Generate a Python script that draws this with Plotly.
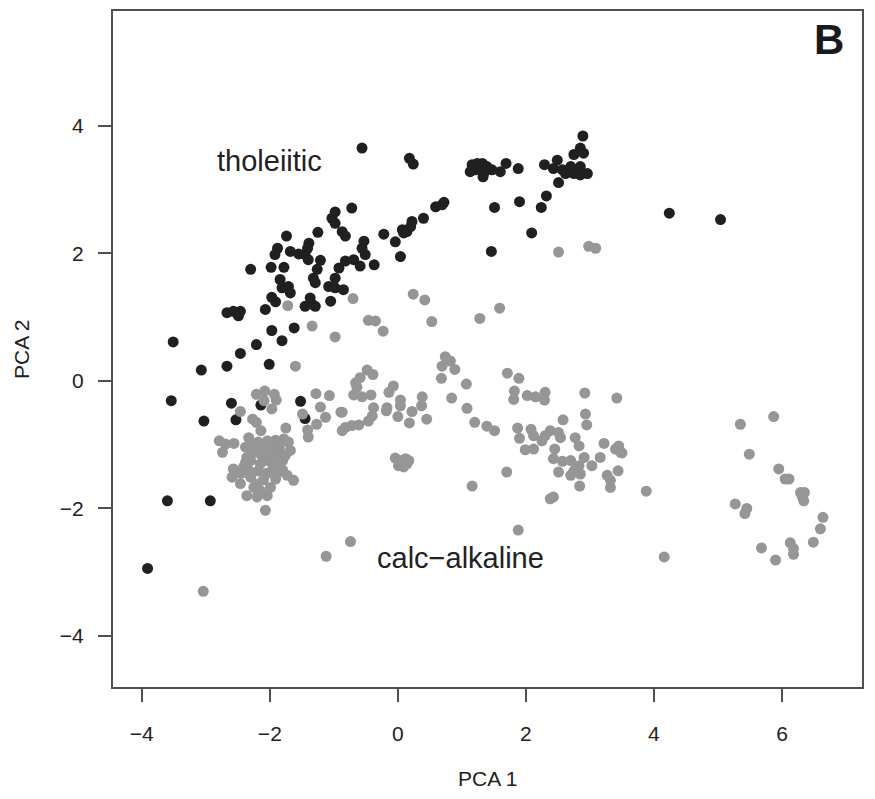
import plotly.graph_objects as go

# PCA scores of the tholeiitic samples
thol_x = [
    -3.91, -3.60, -2.93, -3.51, -3.54, -3.07, -3.03,
    -2.67, -2.46, -2.21, -2.01, -1.97, -1.81, -1.62,
    -2.60, -2.53, -2.14, -1.52, -1.45,
    -2.67, -2.57, -2.46, -2.49, -2.07, -1.97, -1.91,
    -1.45, -1.34, -1.29, -1.37, -1.05,
    -0.56, -0.72, -0.98, -1.03, -0.98, -0.87, -0.82,
    -1.25, -1.39, -1.41, -1.74, -1.88, -1.92, -1.68,
    -1.55, -1.45, -1.40, -2.30, -1.98, -1.78, -1.84,
    -1.81, -1.71, -1.68, -1.21, -1.26, -1.32, -1.29,
    -0.92, -0.98, -1.08, -0.98, -0.85, -0.82, -0.69,
    -0.59, -0.53, -0.56, -0.51, -0.37, -0.22, -0.04,
    0.07, 0.04, 0.18, 0.24, 0.59, 0.72, 0.69, 0.40,
    0.22, 0.20, 0.09, 0.14,
    1.16, 1.24, 1.32, 1.39, 1.13, 1.21, 1.29, 1.34,
    1.33, 1.47, 1.60, 1.69, 1.88,
    2.89, 2.85, 2.75, 2.90, 2.49, 2.29, 2.43, 2.57,
    2.70, 2.62, 2.85, 2.75, 2.96, 2.85, 2.51, 2.32,
    2.24, 1.90, 1.51, 2.09, 1.46, 4.24, 5.04,
]
thol_y = [
    -2.94, -1.88, -1.88, 0.61, -0.31, 0.17, -0.63,
    0.23, 0.43, 0.57, 0.26, 0.79, 0.63, 0.83,
    -0.35, -0.61, -0.38, -0.32, -0.59,
    1.07, 1.09, 1.09, 1.02, 1.12, 1.31, 1.24,
    1.17, 1.20, 1.17, 1.30, 1.25,
    3.65, 2.71, 2.65, 2.55, 2.47, 2.34, 2.27,
    2.33, 2.16, 2.08, 2.27, 2.08, 1.98, 2.03,
    1.99, 1.98, 1.90, 1.75, 1.78, 1.78, 1.59,
    1.46, 1.48, 1.38, 1.89, 1.75, 1.61, 1.54,
    1.77, 1.61, 1.48, 1.46, 1.43, 1.88, 1.90,
    1.80, 2.19, 2.08, 1.98, 1.82, 2.30, 2.18,
    2.37, 1.95, 3.49, 3.40, 2.73, 2.80, 2.76, 2.55,
    2.50, 2.42, 2.32, 2.34,
    3.39, 3.41, 3.41, 3.36, 3.28, 3.31, 3.33, 3.25,
    3.20, 3.31, 3.28, 3.41, 3.33,
    3.84, 3.65, 3.55, 3.57, 3.46, 3.39, 3.33, 3.31,
    3.36, 3.25, 3.36, 3.25, 3.25, 3.23, 3.11, 2.90,
    2.72, 2.81, 2.72, 2.32, 2.03, 2.63, 2.53,
]

# PCA scores of the calc-alkaline samples
calc_x = [
    -1.72, -1.34, -0.98, -1.60, -0.70,
    -2.21, -2.08, -1.93, -1.90, -2.09, -1.97,
    -2.46, -2.27, -2.21, -2.14, -1.75,
    -1.28, -1.07, -1.21, -1.13, -1.27, -1.41, -1.40, -1.49, -0.89,
    -2.79, -2.69, -2.74, -2.56, -2.33, -2.38,
    -2.18, -2.04, -1.91, -1.78, -1.71, -1.68, -1.76, -1.84,
    -2.36, -2.41, -2.57, -2.59, -2.46, -2.30, -2.25, -2.36,
    -2.20, -2.04, -2.07, -1.91, -1.73, -1.63, -1.99, -1.89,
    -2.18, -2.04, -2.23, -1.99, -2.10, -1.89,
    -2.15, -1.95, -2.30, -2.45, -2.10, -1.80, -2.25, -2.00, -1.85,
    -2.28, -2.12, -1.95, -1.80, -2.38, -2.20, -2.05, -1.92, -2.15, -2.33,
    -3.04, -1.12, -0.74,
    -0.46, -0.35, -0.23, 0.24, 0.42, 0.53, 1.28, 1.59,
    0.74, 0.82, 0.69, 0.89, 0.68, 1.07, 0.84, 1.08, 1.20, 1.39, 1.51,
    1.71, 1.89, 1.82, 1.81, 2.02, 2.15, 2.30, 2.29,
    2.92, 2.93, 2.95, 3.42,
    -0.48, -0.39, -0.59, -0.66, -0.64, -0.69, -0.56, -0.42, -0.14, -0.07,
    0.04, 0.04, -0.17, -0.18, 0.00, 0.18, 0.38, 0.37, 0.22, 0.45,
    -0.38, -0.40, -0.46, -0.61, -0.72, -0.82, -0.87, -0.87,
    -0.04, 0.04, 0.12, 0.17, 0.01, 0.09, 0.14,
    1.70, 1.16, 1.88,
    2.58, 1.87, 1.90, 2.08, 2.12, 2.25, 2.38, 2.51, 2.54, 2.30, 1.99, 2.12, 2.45,
    2.43, 2.57, 2.51, 2.70, 2.77, 2.83, 2.75, 2.85, 2.70, 2.83, 2.91, 3.03,
    3.16, 3.22, 3.40, 3.45, 3.48, 3.44, 3.27, 3.32, 3.32, 2.84, 2.43, 2.38,
    3.50, 3.88, 4.16, 2.51, 2.98, 3.09,
    5.35, 5.87, 5.49, 5.95, 6.05, 6.11, 6.29, 6.35, 6.34, 6.32, 6.64,
    6.60, 6.49, 6.13, 6.18, 6.18, 5.90, 5.68, 5.27, 5.45, 5.42,
]
calc_y = [
    1.18, 0.86, 0.69, 0.23, 1.29,
    -0.21, -0.16, -0.21, -0.30, -0.31, -0.44,
    -0.48, -0.60, -0.65, -0.78, -0.74,
    -0.20, -0.23, -0.41, -0.57, -0.68, -0.77, -0.88, -0.52, -0.49,
    -0.94, -0.99, -1.12, -0.98, -0.89, -1.04,
    -0.96, -0.94, -0.93, -0.91, -0.96, -1.09, -1.17, -1.28,
    -1.20, -1.35, -1.38, -1.51, -1.61, -1.51, -1.67, -1.80,
    -1.82, -1.80, -2.03, -1.54, -1.48, -1.56, -1.67, -1.46,
    -1.41, -1.25, -1.12, -1.09, -1.04, -1.15,
    -1.30, -1.35, -1.25, -1.45, -1.55, -1.40, -1.00, -1.00, -1.05,
    -1.10, -1.18, -1.22, -1.25, -1.28, -1.62, -1.45, -1.30, -1.72, -1.40,
    -3.30, -2.75, -2.52,
    0.95, 0.94, 0.78, 1.36, 1.27, 0.93, 0.98, 1.14,
    0.38, 0.31, 0.23, 0.18, 0.04, -0.05, -0.27, -0.43, -0.65, -0.71, -0.78,
    0.12, 0.04, -0.16, -0.29, -0.23, -0.25, -0.18, -0.30,
    -0.19, -0.52, -0.69, -0.27,
    0.17, 0.10, 0.05, -0.03, -0.10, -0.22, -0.25, -0.22, -0.18, -0.08,
    -0.30, -0.39, -0.42, -0.47, -0.56, -0.66, -0.25, -0.39, -0.48, -0.60,
    -0.42, -0.55, -0.63, -0.69, -0.70, -0.73, -0.78, -0.49,
    -1.21, -1.25, -1.22, -1.25, -1.33, -1.35, -1.30,
    -1.43, -1.65, -2.34,
    -0.61, -0.74, -0.90, -0.76, -0.86, -0.94, -0.78, -0.81, -0.89, -0.86, -1.08, -1.07, -1.07,
    -1.22, -1.26, -1.43, -1.25, -0.89, -1.02, -1.41, -1.46, -1.48, -1.33, -1.20, -1.33,
    -1.20, -0.98, -1.07, -1.02, -1.12, -1.41, -1.48, -1.56, -1.67, -1.65, -1.82, -1.85,
    -1.13, -1.73, -2.76, 2.02, 2.11, 2.08,
    -0.68, -0.56, -1.15, -1.38, -1.54, -1.54, -1.75, -1.75, -1.88, -1.82, -2.14,
    -2.32, -2.53, -2.54, -2.63, -2.72, -2.81, -2.62, -1.93, -2.00, -2.08,
]

x_ticks = [-4, -2, 0, 2, 4, 6]
y_ticks = [-4, -2, 0, 2, 4]

FONT = "Liberation Sans, Arial, Helvetica, sans-serif"
INK = "#222222"

fig = go.Figure()
fig.add_trace(go.Scatter(
    x=thol_x, y=thol_y, mode="markers", name="tholeiitic",
    marker=dict(size=11, color="#202020", line=dict(width=0)),
))
fig.add_trace(go.Scatter(
    x=calc_x, y=calc_y, mode="markers", name="calc-alkaline",
    marker=dict(size=11, color="#969696", line=dict(width=0)),
))

axis_common = dict(
    showgrid=False, zeroline=False,
    showline=True, linecolor="#505050", linewidth=2, mirror=True,
    ticks="outside", ticklen=13, tickwidth=1.5, tickcolor="#505050",
    tickfont=dict(family=FONT, size=21, color=INK),
)

fig.update_xaxes(range=[-4.45, 7.25], tickvals=x_ticks, ticklabelstandoff=14,
                 **axis_common)
fig.update_yaxes(range=[-4.80, 5.80], tickvals=y_ticks, ticklabelstandoff=10,
                 **axis_common)

fig.add_annotation(x=-2.0, y=3.45, text="tholeiitic", showarrow=False,
                   font=dict(family=FONT, size=29, color=INK))
fig.add_annotation(x=0.98, y=-2.78, text="calc\u2212alkaline", showarrow=False,
                   font=dict(family=FONT, size=29, color=INK))
fig.add_annotation(x=6.73, y=5.36, text="<b>B</b>", showarrow=False,
                   font=dict(family=FONT, size=42, color="#1a1a1a"))

# axis titles
fig.add_annotation(x=0.5, y=0, xref="paper", yref="paper", yshift=-91,
                   text="PCA 1", showarrow=False, yanchor="middle",
                   font=dict(family=FONT, size=21, color=INK))
fig.add_annotation(x=0, y=0.5, xref="paper", yref="paper", xshift=-92,
                   text="PCA 2", showarrow=False, textangle=-90, xanchor="center",
                   font=dict(family=FONT, size=21, color=INK))

fig.update_layout(
    width=875, height=799,
    margin=dict(l=113, r=13, t=9, b=112),
    paper_bgcolor="white", plot_bgcolor="white",
    showlegend=False,
)

fig.write_html("out.html")
